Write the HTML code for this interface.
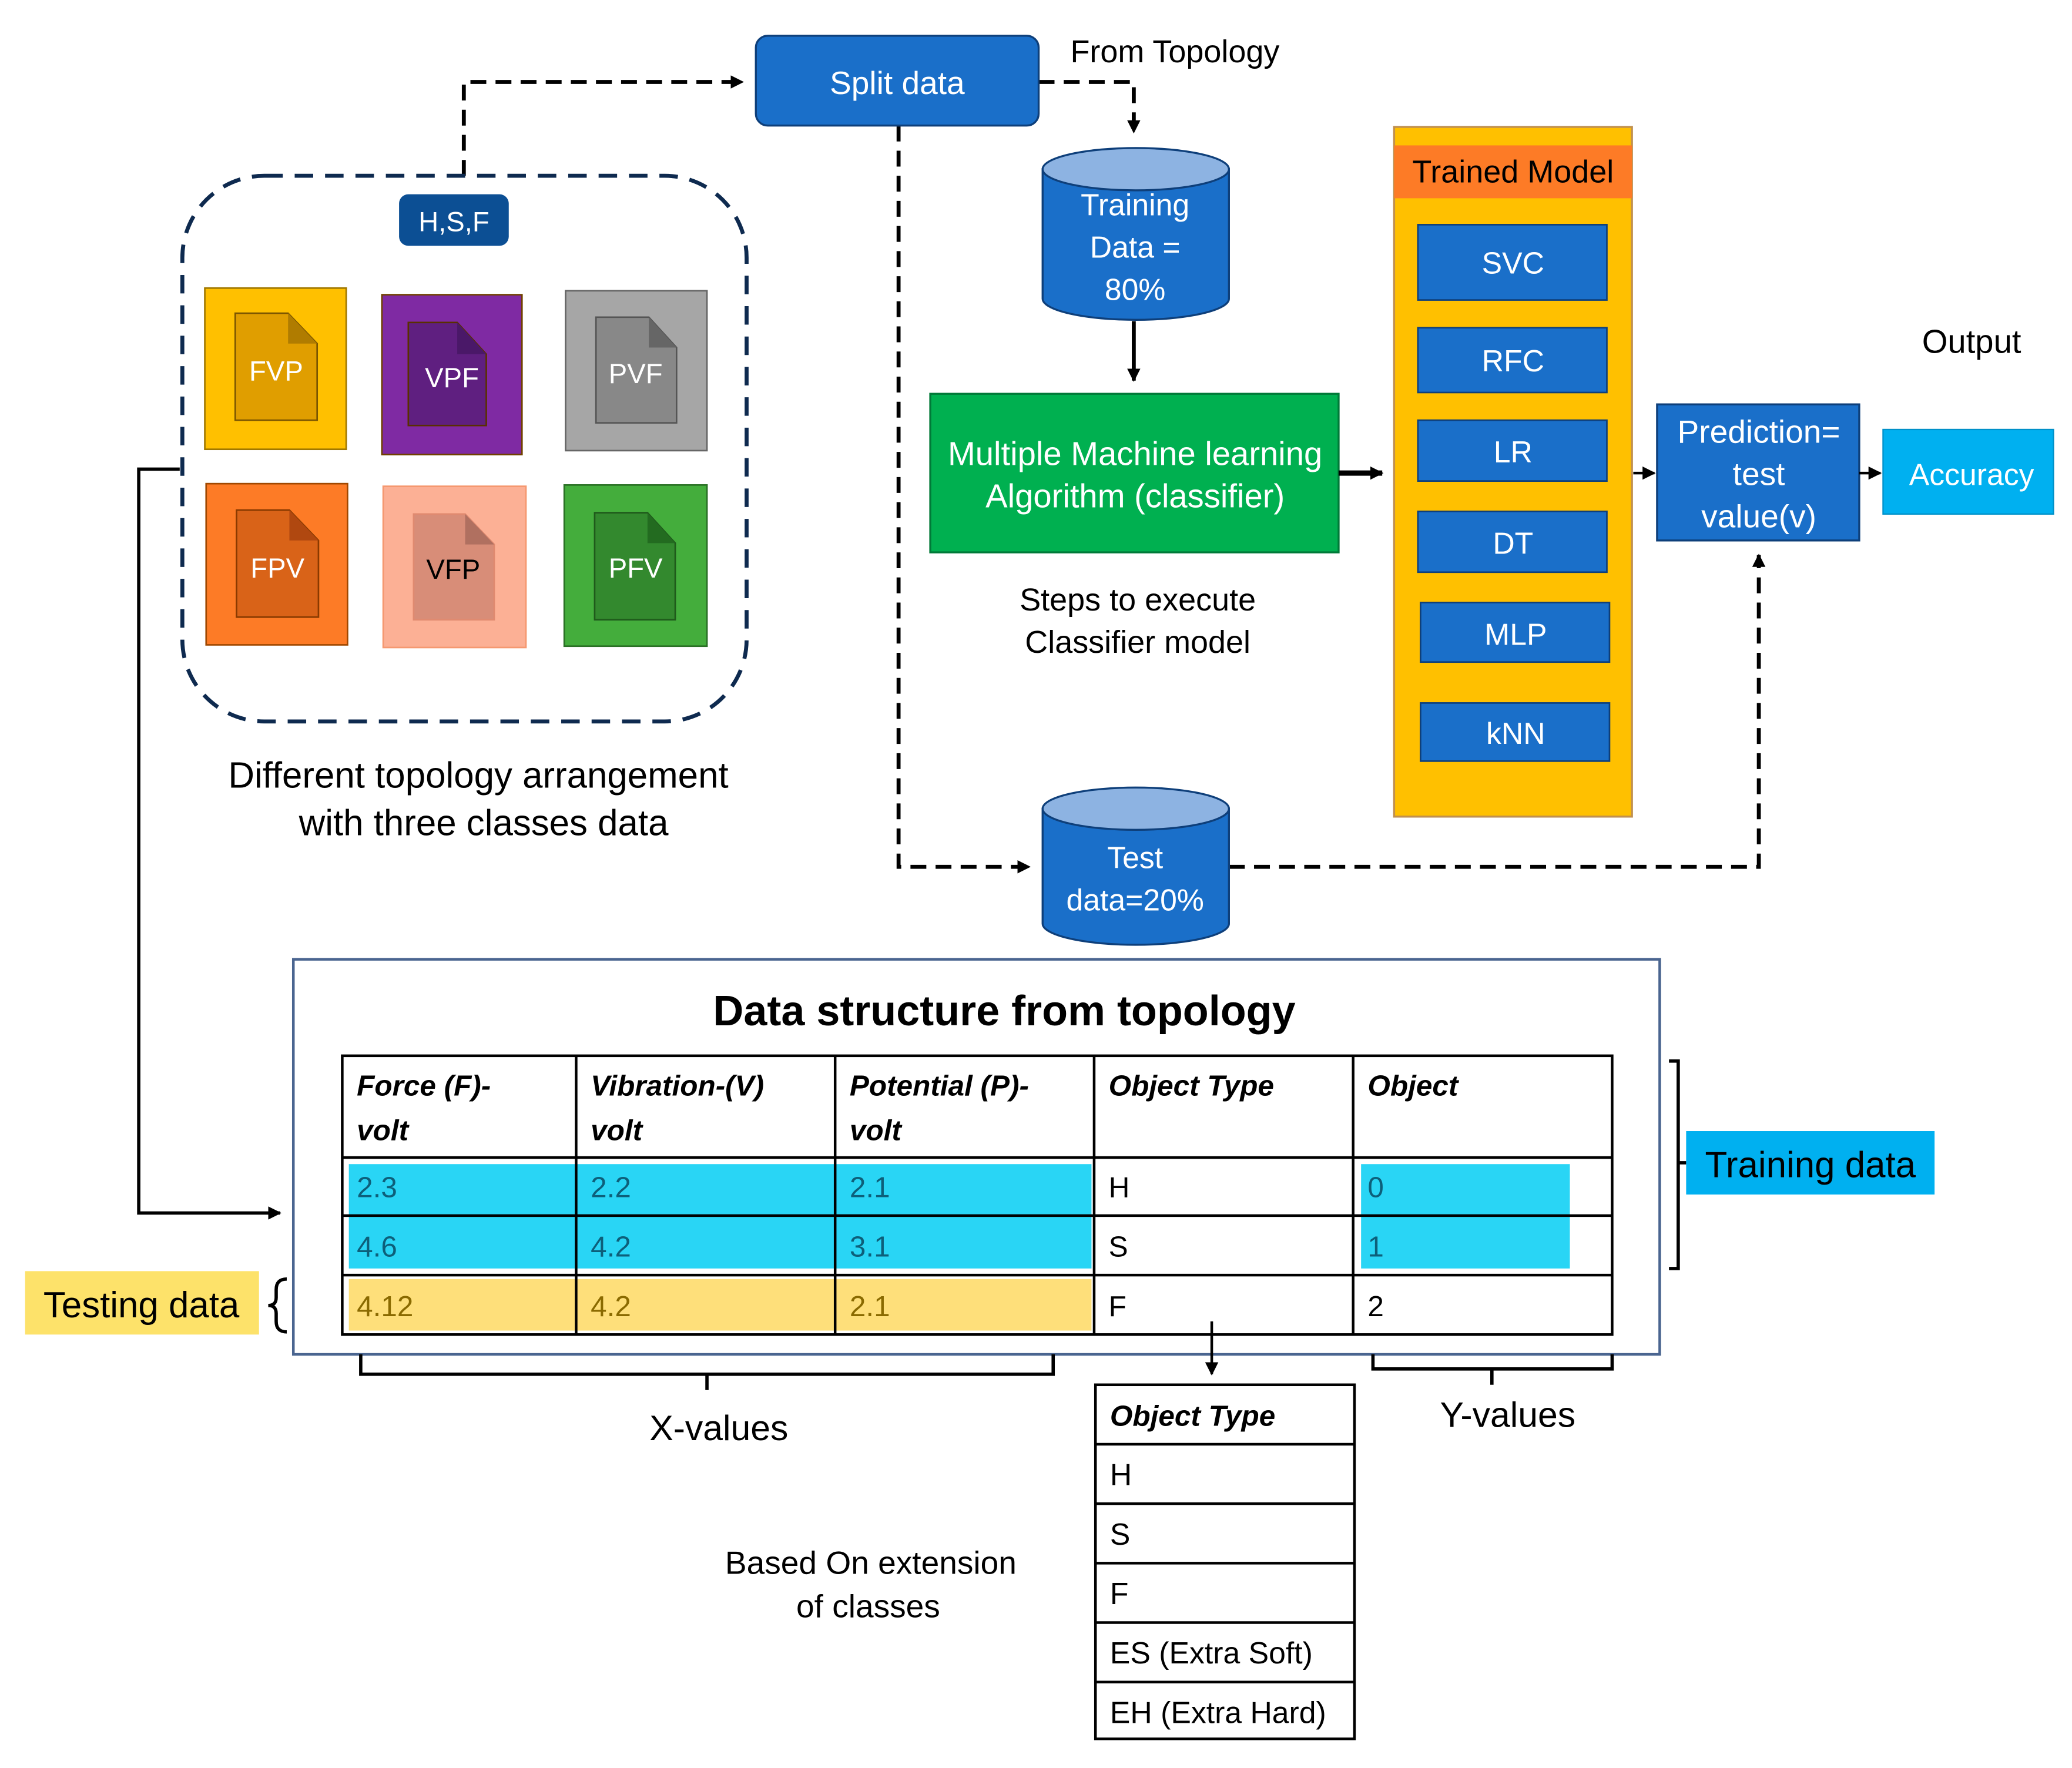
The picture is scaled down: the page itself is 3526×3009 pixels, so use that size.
<!DOCTYPE html>
<html><head><meta charset="utf-8"><style>
html,body{margin:0;padding:0;background:#fff}
svg{display:block}
text{font-family:"Liberation Sans",sans-serif}
</style></head><body>
<svg width="3526" height="3009" viewBox="0 0 1568 1338" xmlns="http://www.w3.org/2000/svg">
<defs>
<marker id="ar" markerWidth="10" markerHeight="10" refX="9" refY="5" orient="auto" markerUnits="userSpaceOnUse"><path d="M0,0 L10,5 L0,10 z" fill="#000"/></marker>
</defs>
<rect width="1568" height="1338" fill="#fff"/>

<g fill="none" stroke="#000" stroke-width="3" stroke-dasharray="12 7">
<path d="M351,133 V62 H562" marker-end="url(#ar)"/>
<path d="M786,62 H858 V100" marker-end="url(#ar)"/>
<path d="M680,95 V656 H779" marker-end="url(#ar)"/>
<path d="M930,656 H1331 V420" marker-end="url(#ar)"/>
</g>

<rect x="138" y="133" width="427" height="413" rx="62" fill="none" stroke="#0e2a4f" stroke-width="3" stroke-dasharray="14 9"/>
<rect x="302" y="147" width="83" height="39" rx="7" fill="#0c4f94"/>
<text x="343.5" y="175" font-size="21" fill="#fff" text-anchor="middle">H,S,F</text>

<g stroke-width="1.2">
<rect x="155" y="218" width="107" height="122" fill="#ffc000" stroke="#a07800"/>
<path d="M178,237 H218 L240,260 V318 H178 Z" fill="#e09e00" stroke="#7a5500"/><path d="M218,237 V260 H240 Z" fill="#b07c00"/>
<text x="209" y="288" font-size="21" fill="#fff" text-anchor="middle">FVP</text>

<rect x="289" y="223" width="106" height="121" fill="#7f2aa3" stroke="#704000"/>
<path d="M309,244 H346 L368,268 V322 H309 Z" fill="#5f1f80" stroke="#5a3000"/><path d="M346,244 V268 H368 Z" fill="#4a1868"/>
<text x="342" y="293" font-size="21" fill="#fff" text-anchor="middle">VPF</text>

<rect x="428" y="220" width="107" height="121" fill="#a6a6a6" stroke="#666"/>
<path d="M451,240 H491 L512,263 V320 H451 Z" fill="#888" stroke="#555"/><path d="M491,240 V263 H512 Z" fill="#666"/>
<text x="481" y="290" font-size="21" fill="#fff" text-anchor="middle">PVF</text>

<rect x="156" y="366" width="107" height="122" fill="#fd7b26" stroke="#a04800"/>
<path d="M179,386 H219 L241,409 V467 H179 Z" fill="#d96318" stroke="#8a3a00"/><path d="M219,386 V409 H241 Z" fill="#b04810"/>
<text x="210" y="437" font-size="21" fill="#fff" text-anchor="middle">FPV</text>

<rect x="290" y="368" width="108" height="122" fill="#fcb095" stroke="#f59870"/>
<path d="M313,389 H352 L374,412 V469 H313 Z" fill="#d88d78" stroke="#e08a70"/><path d="M352,389 V412 H374 Z" fill="#b07060"/>
<text x="343" y="438" font-size="21" fill="#000" text-anchor="middle">VFP</text>

<rect x="427" y="367" width="108" height="122" fill="#44ad3c" stroke="#2a7025"/>
<path d="M450,388 H490 L511,411 V469 H450 Z" fill="#33892e" stroke="#1f5a1b"/><path d="M490,388 V411 H511 Z" fill="#236b20"/>
<text x="481" y="437" font-size="21" fill="#fff" text-anchor="middle">PFV</text>
</g>

<text x="362" y="596" font-size="27.5" text-anchor="middle">Different topology arrangement</text>
<text x="366" y="632" font-size="27.5" text-anchor="middle">with three classes data</text>

<rect x="572" y="27" width="214" height="68" rx="9" fill="#1a6fc9" stroke="#0e3f7a" stroke-width="1.5"/>
<text x="679" y="71" font-size="24.5" fill="#fff" text-anchor="middle">Split data</text>
<text x="810" y="47" font-size="24">From Topology</text>

<path d="M136,355 H105 V918 H212" fill="none" stroke="#000" stroke-width="2.5" marker-end="url(#ar)"/>

<path d="M789,128 V226 A70.5,16 0 0 0 930,226 V128 Z" fill="#1a6fc9" stroke="#0e3f7a" stroke-width="1.5"/>
<ellipse cx="859.5" cy="128" rx="70.5" ry="16" fill="#8db3e2" stroke="#0e3f7a" stroke-width="1.5"/>
<text x="859" y="163" font-size="23" fill="#fff" text-anchor="middle">Training</text>
<text x="859" y="195" font-size="23" fill="#fff" text-anchor="middle">Data =</text>
<text x="859" y="227" font-size="23" fill="#fff" text-anchor="middle">80%</text>

<path d="M858,243 V288" stroke="#000" stroke-width="3" marker-end="url(#ar)"/>

<rect x="704" y="298" width="309" height="120" fill="#00b050" stroke="#007a38" stroke-width="1.5"/>
<text x="859" y="352" font-size="25" fill="#fff" text-anchor="middle">Multiple Machine learning</text>
<text x="859" y="384" font-size="25" fill="#fff" text-anchor="middle">Algorithm (classifier)</text>
<text x="861" y="462" font-size="24" text-anchor="middle">Steps to execute</text>
<text x="861" y="494" font-size="24" text-anchor="middle">Classifier model</text>
<path d="M1013,358 H1046" stroke="#000" stroke-width="4" marker-end="url(#ar)"/>

<rect x="1055" y="96" width="180" height="522" fill="#ffc000" stroke="#c09050" stroke-width="1.5"/>
<rect x="1055" y="110" width="180" height="40" fill="#fd7b26"/>
<text x="1145" y="138" font-size="24" fill="#000" text-anchor="middle">Trained Model</text>
<g fill="#1a6fc9" stroke="#0e3f7a" stroke-width="1.2">
<rect x="1073" y="170" width="143" height="57"/>
<rect x="1073" y="248" width="143" height="49"/>
<rect x="1073" y="318" width="143" height="46"/>
<rect x="1073" y="387" width="143" height="46"/>
<rect x="1075" y="456" width="143" height="45"/>
<rect x="1075" y="532" width="143" height="44"/>
</g>
<g font-size="23" fill="#fff" text-anchor="middle">
<text x="1145" y="207">SVC</text>
<text x="1145" y="281">RFC</text>
<text x="1145" y="350">LR</text>
<text x="1145" y="419">DT</text>
<text x="1147" y="488">MLP</text>
<text x="1147" y="563">kNN</text>
</g>
<path d="M1236,358 H1252" stroke="#000" stroke-width="2" marker-end="url(#ar)"/>

<rect x="1254" y="306" width="153" height="103" fill="#1a6fc9" stroke="#0e3f7a" stroke-width="1.5"/>
<text x="1331" y="335" font-size="24.5" fill="#fff" text-anchor="middle">Prediction=</text>
<text x="1331" y="367" font-size="24.5" fill="#fff" text-anchor="middle">test</text>
<text x="1331" y="399" font-size="24.5" fill="#fff" text-anchor="middle">value(v)</text>
<path d="M1407,358 H1423" stroke="#000" stroke-width="2" marker-end="url(#ar)"/>
<rect x="1425" y="325" width="129" height="64" fill="#00b0f0" stroke="#0090c8" stroke-width="1"/>
<text x="1492" y="367" font-size="23" fill="#fff" text-anchor="middle">Accuracy</text>
<text x="1492" y="267" font-size="25" text-anchor="middle">Output</text>

<path d="M789,612 V699 A70.5,16 0 0 0 930,699 V612 Z" fill="#1a6fc9" stroke="#0e3f7a" stroke-width="1.5"/>
<ellipse cx="859.5" cy="612" rx="70.5" ry="16" fill="#8db3e2" stroke="#0e3f7a" stroke-width="1.5"/>
<text x="859" y="657" font-size="23" fill="#fff" text-anchor="middle">Test</text>
<text x="859" y="689" font-size="23" fill="#fff" text-anchor="middle">data=20%</text>

<rect x="222" y="726" width="1034" height="299" fill="#fff" stroke="#4a6590" stroke-width="2"/>
<text x="760" y="776" font-size="32" font-weight="bold" text-anchor="middle">Data structure from topology</text>

<rect x="264" y="881" width="562" height="79" fill="#29d5f5"/>
<rect x="1030" y="881" width="158" height="79" fill="#29d5f5"/>
<rect x="264" y="968" width="562" height="39" fill="#fedf7a"/>
<g stroke="#000" stroke-width="2" fill="none">
<rect x="259" y="799" width="961" height="211"/>
<path d="M259,876 H1220 M259,920 H1220 M259,965 H1220 M436,799 V1010 M632,799 V1010 M828,799 V1010 M1024,799 V1010"/>
</g>
<g font-size="22" font-style="italic" font-weight="bold">
<text x="270" y="829">Force (F)-</text><text x="270" y="863">volt</text>
<text x="447" y="829">Vibration-(V)</text><text x="447" y="863">volt</text>
<text x="643" y="829">Potential (P)-</text><text x="643" y="863">volt</text>
<text x="839" y="829">Object Type</text>
<text x="1035" y="829">Object</text>
</g>
<g font-size="22">
<g fill="#0d5f7a">
<text x="270" y="906">2.3</text><text x="447" y="906">2.2</text><text x="643" y="906">2.1</text><text x="1035" y="906">0</text>
<text x="270" y="951">4.6</text><text x="447" y="951">4.2</text><text x="643" y="951">3.1</text><text x="1035" y="951">1</text>
</g>
<g fill="#8a6a00">
<text x="270" y="996">4.12</text><text x="447" y="996">4.2</text><text x="643" y="996">2.1</text>
</g>
<text x="839" y="906">H</text><text x="839" y="951">S</text><text x="839" y="996">F</text><text x="1035" y="996">2</text>
</g>

<g fill="none" stroke="#000" stroke-width="2.5">
<path d="M1263,803 H1270 V960 H1263 M1270,880 H1276"/>
<path d="M273,1025 V1040 H797 V1025 M535,1040 V1052"/>
<path d="M1039,1025 V1036 H1220 V1025 M1129,1036 V1048"/>
<path d="M217,968 Q209,968 209,976 V982 Q209,988 203,988 Q209,988 209,994 V1000 Q209,1008 217,1008"/>
</g>
<rect x="1276" y="856" width="188" height="48" fill="#00b0f0"/>
<text x="1370" y="891" font-size="27.5" text-anchor="middle">Training data</text>
<rect x="19" y="962" width="177" height="48" fill="#fde26a"/>
<text x="107" y="997" font-size="27.5" text-anchor="middle">Testing data</text>
<text x="544" y="1090" font-size="27" text-anchor="middle">X-values</text>
<text x="1141" y="1080" font-size="27" text-anchor="middle">Y-values</text>

<path d="M917,1000 V1040" stroke="#000" stroke-width="2" marker-end="url(#ar)"/>

<g stroke="#000" stroke-width="2" fill="none">
<rect x="829" y="1048" width="196" height="268"/>
<path d="M829,1093 H1025 M829,1138 H1025 M829,1183 H1025 M829,1228 H1025 M829,1273 H1025"/>
</g>
<g font-size="23">
<text x="840" y="1079" font-style="italic" font-weight="bold" font-size="22">Object Type</text>
<text x="840" y="1124">H</text>
<text x="840" y="1169">S</text>
<text x="840" y="1214">F</text>
<text x="840" y="1259">ES (Extra Soft)</text>
<text x="840" y="1304">EH (Extra Hard)</text>
</g>
<text x="659" y="1191" font-size="24.5" text-anchor="middle">Based On extension</text>
<text x="657" y="1224" font-size="24.5" text-anchor="middle">of classes</text>
</svg>
</body></html>
